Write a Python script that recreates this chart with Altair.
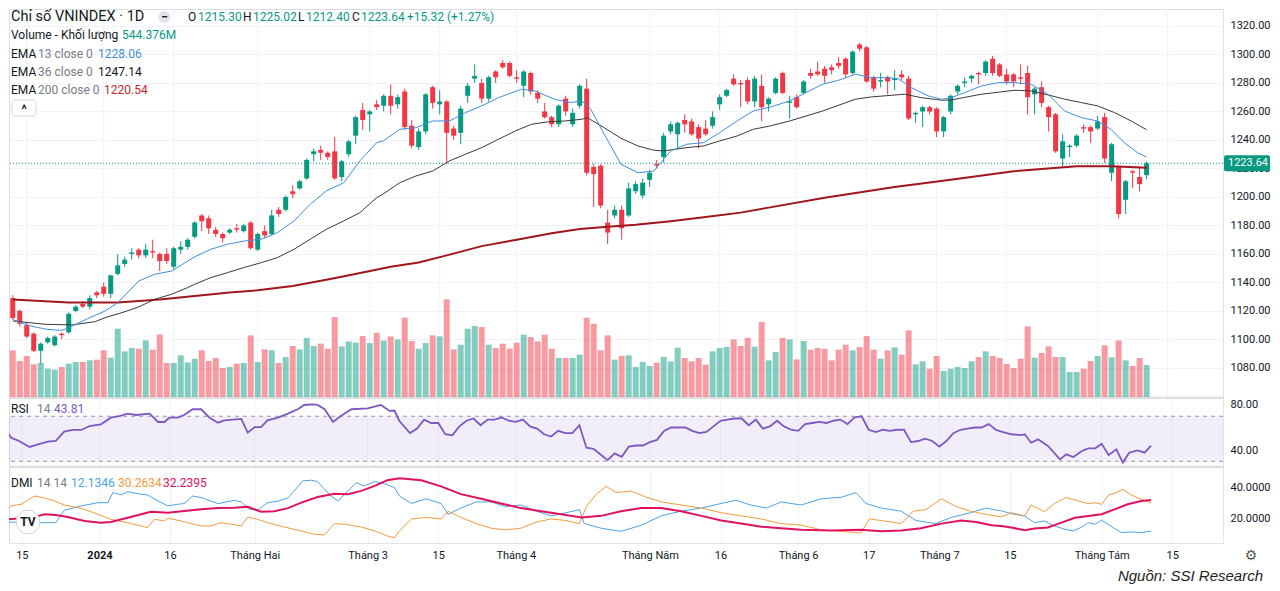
import altair as alt
import pandas as pd

# ---------------- data ----------------
opens = [1129,1120,1110,1104,1092,1098,1096,1104,1105,1120,
 1125,1123,1133,1137,1132,1146,1153,1160,1163,1159,
 1162,1160,1160,1151,1163,1165,1172,1187,1185,1177,
 1174,1175,1178,1176,1182,1163,1176,1174,1191,1191,
 1204,1206,1213,1230,1233,1231,1232,1214,1230,1243,
 1261,1258,1265,1264,1271,1265,1274,1250,1235,1246,
 1277,1265,1267,1248,1245,1271,1283,1280,1269,1288,
 1294,1294,1284,1278,1287,1273,1260,1256,1251,1269,
 1251,1264,1276,1221,1222,1182,1187,1191,1187,1204,
 1201,1212,1223,1228,1246,1244,1254,1253,1249,1248,
 1250,1265,1271,1283,1280,1282,1267,1278,1265,1273,
 1287,1266,1270,1273,1287,1288,1290,1291,1294,1297,
 1287,1307,1305,1284,1281,1284,1282,1286,1283,1258,
 1260,1263,1262,1246,1260,1274,1280,1283,1287,1287,
 1297,1293,1286,1286,1284,1287,1272,1277,1263,1258,
 1227,1235,1236,1249,1249,1248,1256,1217,1221,1198,
 1218,1214,1215.30]
highs = [1131,1121,1112,1105,1098,1102,1103,1105,1119,1124,
 1127,1131,1134,1140,1145,1160,1158,1164,1164,1167,
 1170,1161,1164,1165,1169,1171,1183,1188,1187,1179,
 1175,1178,1181,1181,1183,1175,1180,1191,1193,1201,
 1208,1212,1227,1234,1236,1232,1242,1226,1240,1257,
 1266,1261,1268,1272,1279,1272,1276,1254,1248,1273,
 1278,1275,1268,1250,1264,1280,1293,1283,1285,1289,
 1296,1295,1289,1289,1288,1275,1266,1257,1265,1271,
 1262,1279,1283,1223,1223,1191,1194,1194,1210,1211,
 1213,1219,1226,1245,1253,1253,1258,1255,1251,1254,
 1260,1272,1276,1286,1282,1284,1285,1286,1270,1284,
 1288,1271,1272,1282,1290,1295,1292,1293,1298,1298,
 1303,1308,1306,1285,1287,1285,1289,1289,1285,1260,
 1264,1264,1263,1257,1272,1279,1284,1286,1288,1296,
 1299,1294,1290,1287,1293,1292,1277,1281,1264,1259,
 1244,1237,1244,1251,1250,1257,1259,1238,1222,1212,
 1219,1221,1225.02]
lows = [1114,1109,1101,1091,1083,1097,1095,1100,1104,1119,
 1122,1121,1129,1130,1129,1145,1151,1156,1157,1157,
 1157,1148,1153,1149,1160,1163,1171,1176,1174,1172,
 1168,1174,1175,1175,1163,1162,1171,1173,1186,1190,
 1199,1205,1212,1225,1226,1226,1212,1211,1228,1237,
 1247,1246,1261,1260,1258,1262,1247,1234,1233,1244,
 1262,1258,1223,1240,1237,1266,1280,1266,1267,1280,
 1290,1284,1280,1270,1272,1266,1255,1249,1249,1257,
 1249,1262,1215,1193,1192,1167,1185,1170,1186,1202,
 1199,1207,1220,1224,1244,1234,1245,1243,1234,1243,
 1248,1261,1270,1278,1263,1265,1263,1253,1260,1272,
 1272,1255,1262,1272,1283,1285,1280,1286,1290,1284,
 1286,1302,1280,1274,1277,1272,1275,1282,1254,1252,
 1249,1258,1242,1242,1258,1272,1277,1280,1279,1285,
 1285,1284,1279,1277,1279,1258,1258,1263,1246,1231,
 1221,1228,1235,1245,1238,1247,1224,1211,1185,1188,
 1206,1204,1212.40]
closes = [1115,1111,1102,1092,1097,1101,1102,1103,1118,1123,
 1123,1129,1131,1132,1145,1152,1156,1161,1159,1163,
 1161,1155,1155,1164,1165,1170,1182,1183,1178,1174,
 1171,1177,1177,1180,1164,1174,1173,1187,1188,1200,
 1202,1211,1226,1232,1231,1228,1213,1225,1239,1256,
 1254,1260,1263,1271,1264,1270,1249,1236,1246,1272,
 1266,1267,1245,1243,1262,1278,1285,1269,1284,1284,
 1291,1285,1283,1288,1274,1269,1256,1251,1264,1260,
 1259,1278,1217,1216,1194,1175,1191,1178,1206,1209,
 1210,1217,1222,1243,1251,1252,1251,1244,1241,1244,
 1256,1270,1275,1279,1279,1267,1283,1263,1269,1283,
 1273,1267,1263,1281,1285,1286,1285,1289,1292,1286,
 1302,1304,1281,1276,1282,1281,1283,1284,1255,1259,
 1263,1260,1246,1256,1271,1278,1281,1285,1286,1295,
 1287,1285,1281,1281,1283,1270,1276,1266,1256,1232,
 1239,1236,1243,1248,1246,1253,1227,1237,1188,1211,
 1217,1209,1223.64]
volumes = [794,612,697,556,578,482,465,510,567,595,
 595,624,635,794,669,1162,776,833,822,963,
 805,1065,578,578,708,589,652,794,612,663,
 493,510,567,578,1048,595,810,794,578,680,
 867,810,1003,867,907,822,1360,861,946,924,
 1037,918,1094,960,1031,980,1349,952,822,918,
 1048,1031,1660,810,890,1162,1207,1190,890,833,
 907,822,924,1060,1020,946,1060,822,663,663,
 663,720,1349,1247,794,1048,635,697,708,510,
 595,527,584,680,607,839,663,607,663,550,
 776,833,850,980,867,1009,856,1275,623,765,
 1003,980,640,952,805,833,822,623,805,890,
 794,850,1037,805,652,794,844,720,1133,555,
 607,482,697,442,482,510,493,607,680,776,
 697,663,561,493,652,1201,669,748,861,680,
 680,425,425,482,612,697,878,674,963,623,
 527,663,544.376]

ema13_i = [0,2.5,5,7,8,11,13.2,15,18,20.3,22.7,25,26,28.3,30.7,33,35.5,37.8,40.2,42.5,44.8,47.3,49.6,52,53,55.3,57.6,60,62.4,64.7,67,69.4,72.7,74.6,77.4,79.7,81.3,82.6,84.5,86.9,89.3,91.6,94,96.3,98.7,101,103.5,105.8,108.4,111,113.3,115.7,118,120.4,122.7,125,126.5,128.4,130.8,132.7,134,136,138.4,140.8,143.2,145.5,147.9,150.3,152.7,155,156.9,158.8,160.7,162]
ema13_v = [1114,1109.5,1107,1106.4,1108.2,1115.3,1120,1125.8,1141,1145.8,1148,1155,1158,1163.3,1166.8,1169,1170.3,1174.9,1183.2,1194.9,1204.2,1210,1225.3,1238.1,1239.5,1247.5,1248.6,1253.3,1253.3,1259.2,1263.9,1269.7,1275.6,1274.4,1268.6,1266.2,1267.4,1261.5,1244,1223,1217,1218.2,1232.3,1237,1238.1,1245.1,1253.3,1260.3,1263.3,1267.4,1273.2,1279.1,1281.9,1286.1,1283.7,1283.7,1283,1276.7,1270.9,1268.6,1269.5,1273.2,1277.9,1280.2,1280.2,1279.1,1272.1,1260.3,1255.6,1253.3,1247.5,1238.1,1231.1,1228.06]

ema36_i = [0,4.7,8.5,11.8,13.2,15.6,18,20.3,22.7,25,26,28.3,30.7,33,35.5,37.8,40.2,42.5,44.8,47.3,49.6,52,52.9,55.3,57.6,60,62.4,64.7,67,69.4,71.8,74.1,76.6,78.9,81.3,82.1,84.5,86.9,89.3,91.6,93,96.3,98.7,101,103.5,105.8,108.2,111,115.7,120.4,122.7,127.4,129.8,132.7,134,138.4,143.2,145.5,147.9,150.3,152.7,155,157.4,159.8,162]
ema36_v = [1113,1110.6,1110.2,1112.5,1115.3,1118.8,1122.8,1128.2,1131.7,1136.4,1138.7,1143.4,1146.9,1150.4,1153.9,1157.4,1163.3,1170.3,1177.3,1183.2,1189,1199.5,1202,1210,1214.7,1218.2,1225.3,1230,1234.6,1240.5,1246.3,1251,1252.8,1253.3,1254.5,1255.6,1248.6,1241.2,1235.8,1232.8,1232.3,1234.6,1235.8,1239.3,1242.8,1247.5,1249.8,1253.3,1260.3,1268.6,1270.2,1272.1,1269.7,1267.9,1268,1272.1,1274.9,1274.4,1271.6,1268.6,1266.2,1263.9,1259.2,1253.3,1247.14]

ema200_i = [0,8,15,21,26,31,35,40,45,50,54,58,62,67,72,77,81,85,89,94,99,104,108,116,126,134,143,152,157,162]
ema200_v = [1128,1126,1126,1128,1130.5,1133,1134.5,1137.5,1142,1147,1151,1154,1159,1165.5,1170,1174.5,1177.5,1179,1180.5,1183,1186,1189,1192.5,1199.5,1207,1212,1218,1221.5,1221.5,1220.54]

rsi_i = [0,0.5,1.4,3.1,4.3,5.7,6.8,8,9.2,10.4,11.6,13.2,14.6,15.8,17,18.2,20.1,21.3,22.2,22.9,24.1,25,26.2,27.4,28.6,29.8,30.7,33.1,34,35,35.9,36.8,38.3,39.7,41.1,42,43.2,43.9,44.9,46.1,47.2,48.7,51,52.9,54.1,54.8,55.5,
 57,58,59,60,61,62,63,64,65,66,67,68,69,70,71,72,73,74,75,76,77,78,79,80,81,82,83,84,85,86,87,88,89,90,91,92,93,94,95,96,97,98,99,100,101,102,103,104,105,106,107,108,109,110,111,112,113,114,115,116,117,118,119,120,121,122,123,124,125,126,127,128,129,130,131,132,133,134,135,136,137,138,139,140,
 140.8,142.2,143.6,144.1,145,146,147.4,149.1,150,151,152.2,153.1,154.1,155,156,157.1,158,158.9,160.1,161.1,162]
rsi_v = [55.4,50.9,48.6,42.7,45,47.4,48,56.3,57.8,57.8,61.3,62.8,68.7,70.2,72.3,71.1,72.3,64.9,64.9,68.7,68.7,71.1,76.2,76.2,68.7,64.3,66.4,67.7,55.4,60.4,60.4,66.4,68.7,72.3,76.2,80,80.6,80,76.2,64.9,70.2,76.2,77,80,74.7,75.1,65.8,
 55,59,67,64,64,54,53,61,66,68,62,67,67,69,66,65,67,61,59,54,52,57,55,55,62,42,41,36,31,37,34,43,44,44,47,49,57,60,60,60,57,55,56,61,66,67,68,68,62,67,59,61,66,61,58,57,63,64,65,64,66,67,63,69,70,58,56,58,57,58,58,47,48,50,48,43,48,55,58,59,60,60,63,58,
 56.3,54,53.3,54,46.5,49.5,43.6,31.7,36.2,33.8,39.1,41.5,41.5,45.6,35.6,40.6,28.7,37.6,39.7,37.6,43.81]

pdi_i = [0,4.7,6.8,8,10.4,12.8,14.2,14.9,16.1,17,18.9,19.8,21.3,22.7,24.1,25,26.2,27.4,29.8,32.1,33.1,34.2,35.4,36.8,38.3,39.7,40.6,41.8,43,43.9,45.1,45.8,46.8,48.2,49.4,50.5,52,53.4,54.8,55.5,
 57.2,59.3,61.4,62.4,64.2,66.4,68.5,70.6,72.7,74.9,77,79.1,81,81.7,84.1,86.9,89.8,92.6,95.4,98.3,101.1,103.2,105.3,107.5,109.6,112.4,115.3,118.1,120.2,121.6,123.8,126.6,128.7,131.5,133.7,136.4,138.6,
 140.8,142.2,144.1,145.5,146.9,148.3,149.8,151,152.2,153.1,154.1,155,156.5,157.8,159.2,160.6,162]
pdi_v = [18,17.6,17.6,25.6,28.4,30.5,30.5,37,35.5,37.6,35.9,35.5,31.6,28.4,29.5,29.9,34.8,33.8,29.9,32,31,26.3,25.6,30.5,31.5,33.5,38.1,44.5,45,44.1,38.1,34.8,31.6,38.1,43.4,41.3,44.1,42.8,40.2,34.8,
 30,33,30,23,27,31,31,28,29,25,22,24,26,17,14,12,16,22,25,27,30,32,29,27,31,29,33,34,37,30,27,25,19,17,21,24,27,
 25.2,23.4,21.9,17.6,18.7,15.5,13.4,12.3,14.8,17.6,16.6,19.2,14.8,11.2,11.6,11.2,12.13]

mdi_i = [0,0.5,1.9,3.8,5.2,6.6,8,10.4,12.8,14.6,17,18.9,19.8,20.8,22.2,22.7,24.6,26,27.4,28.8,30.2,31.7,33.1,34,35.4,36.8,39.2,41.6,43.5,44.9,46.3,47.7,50.1,52,53.8,54.8,55.5,
 57.2,59.3,61.4,62.4,64.2,66.4,68.5,70.6,72.7,74.9,77,79.1,81,82,83.4,84.8,86.2,88.3,90.5,92.6,95.4,98.3,101.1,103.9,106.8,109.6,112.4,115.3,118.1,120.9,122.1,123.8,126.6,128.3,130.1,132.3,134.4,136.4,138.6,
 140.8,142.2,144.1,145,146.9,148.3,150,151.7,153.1,154.1,155,156,157.1,158,159.2,160.6,162]
mdi_v = [26.3,28.4,29.5,34.8,33.5,31.6,29,26.9,23,19.8,17.6,15.5,14.4,19.8,18.7,20.4,18.7,17,15.5,15.5,17.6,16.6,15.5,21.3,19.8,17.6,14.8,12.3,10.1,9.7,17,16.6,14.8,12.3,9,7.9,12.3,
 20,21,20,25,21,17,14,13,14,18,20,19,17,28,36,41,37,38,34,31,29,27,24,22,20,17,16,13,12,11,20,19,17,25,26,33,28,25,23,
 21.3,24.1,21.9,29,24.7,29.9,33.8,31.6,29.9,30.5,29.4,35.5,37,39.1,35.5,32.7,30.26]

adx_i = [0,3.8,5.2,6.8,8.5,10.9,13.2,14.6,17,18.9,20.3,22.7,25,27.4,29.8,32.1,34,35.9,37.8,39.7,41.6,43.9,46.3,48.2,50.1,52,53.8,55.5,
 58.6,61.4,64.2,67.1,69.9,72.7,75.6,78.4,81.3,84.1,86.9,89.8,92.6,95.4,98.3,101.1,103.9,106.8,109.6,112.4,116.7,120.9,123.8,126.6,129.4,132.3,135.1,137.2,139.4,
 140.8,142.2,144.1,145.5,147.4,149.3,151.2,153.1,155,156.9,158.7,160.6,162]
adx_v = [19.8,21.3,23,22.6,21.3,18.7,17.6,18,20.8,23,24.7,24,25.2,26.3,27,27.3,27.8,24.7,25,27,30.5,34.2,36.3,36,38.1,41.3,45,46.3,
 45,41,36,33,30,27,25,23,21,22,25,27,27,25,22,19,17,15,14,13,12.5,13,12,12.5,14,17,19,18,16,
 15.5,14.5,12.7,13.9,14.5,17.6,20.8,21.9,23,26.3,29.5,31.6,32.24]

tick_i = [2, 13, 23, 35, 51, 61, 72, 91, 101, 112, 122, 132, 142, 155, 165]
tick_lab = ["15", "2024", "16", "Tháng Hai", "Tháng 3", "15", "Tháng 4", "Tháng Năm",
            "16", "Tháng 6", "17", "Tháng 7", "15", "Tháng Tám", "15"]

# ---------------- styling ----------------
FONT = "Roboto"
DARK = "#131722"
GRAYT = "#787B86"
GREEN = "#089981"
RED = "#F23645"
GRID = "#F0F3FA"
SEP = "#E0E3EB"
C13 = "#3D8FE0"
C36 = "#3A3A3A"
C200 = "#A0161C"
RSIC = "#7E57C2"
PDIC = "#4DA3E8"
MDIC = "#F39A3C"
ADXC = "#E0115F"

W, H1, H2, H3 = 1214, 388, 68, 76
XS = alt.Scale(domain=[0.18, 172.2], nice=False, zero=False)
PS = alt.Scale(domain=[1059.6, 1331.9], nice=False, zero=False)
VS = alt.Scale(domain=[0, 6600], nice=False, zero=True)
RS = alt.Scale(domain=[25.8, 86.2], nice=False, zero=False)
DS = alt.Scale(domain=[4.5, 53.5], nice=False, zero=False)

N = len(closes)
df = pd.DataFrame({"i": list(range(N)), "o": opens, "h": highs, "l": lows,
                   "c": closes, "vol": volumes})
df["dir"] = ["up" if c >= o else "down" for o, c in zip(opens, closes)]
one = pd.DataFrame({"k": [0]})
tdf = pd.DataFrame({"i": tick_i})

col = alt.Color("dir:N", scale=alt.Scale(domain=["up", "down"], range=[GREEN, RED]), legend=None)


def X(axis=None):
    return alt.X("i:Q", scale=XS, axis=axis, title=None)


def T(x, y, s, color=DARK, size=12, weight="normal", align="left", style="normal", font=FONT):
    return alt.Chart(one).mark_text(text=s, x=x, y=y, color=color, fontSize=size,
                                    fontWeight=weight, align=align, baseline="middle",
                                    fontStyle=style, font=font)


def right_axis(values, fmt, grid):
    return alt.Axis(orient="right", values=values, format=fmt, grid=grid, gridColor=GRID,
                    ticks=False, domain=True, domainColor=SEP, labelPadding=7, title=None,
                    labelFontSize=11, labelColor=DARK, labelFont=FONT, minExtent=0)


def line(ii, vv, color, width, scale, yaxis=None, xaxis=None):
    d = pd.DataFrame({"i": ii, "v": vv})
    return alt.Chart(d).mark_line(color=color, strokeWidth=width, clip=True).encode(
        x=X(xaxis), y=alt.Y("v:Q", scale=scale, axis=yaxis, title=None))


# ---------------- price panel (independent y: price / volume) ----------------
vgrid = alt.Chart(tdf).mark_rule(color=GRID, strokeWidth=1).encode(x=X())
sep1 = alt.Chart(one).mark_rule(color=SEP, strokeWidth=1).encode(y=alt.value(H1))
vol = alt.Chart(df).mark_bar(size=6, opacity=0.5, clip=True).encode(
    x=X(), y=alt.Y("vol:Q", scale=VS, axis=None), color=col)
wick = alt.Chart(df).mark_rule(strokeWidth=1, clip=True).encode(
    x=X(), y=alt.Y("l:Q", scale=PS, axis=right_axis(list(range(1080, 1321, 20)), ".2f", True)),
    y2="h:Q", color=col)
body = alt.Chart(df).mark_bar(size=5, clip=True).encode(
    x=X(), y=alt.Y("o:Q", scale=PS, axis=None), y2="c:Q", color=col)
e200 = line(ema200_i, ema200_v, C200, 2, PS)
e36 = line(ema36_i, ema36_v, C36, 1, PS)
e13 = line(ema13_i, ema13_v, C13, 1, PS)
last = pd.DataFrame({"v": [closes[-1]]})
prule = alt.Chart(last).mark_rule(color=GREEN, strokeDash=[1, 2], strokeWidth=1).encode(
    y=alt.Y("v:Q", scale=PS, axis=None))
tag = alt.Chart(last).transform_calculate(top="datum.v + 5.6", bot="datum.v - 5.6").mark_rect(
    color=GREEN, cornerRadius=2).encode(
    x=alt.value(W + 1), x2=alt.value(W + 47),
    y=alt.Y("top:Q", scale=PS, axis=None), y2="bot:Q")
tagt = alt.Chart(last).mark_text(align="left", baseline="middle", color="white", fontSize=11,
                                 font=FONT).encode(
    x=alt.value(W + 5), y=alt.Y("v:Q", scale=PS, axis=None), text=alt.Text("v:Q", format=".2f"))

hdr = [
    T(2, 8, "Chỉ số VNINDEX · 1D", size=14.5),
    alt.Chart(one).mark_point(shape="circle", filled=True, size=150, x=155.5, y=8,
                              color="#E0E3EB", opacity=1),
    T(155.5, 8, "−", size=12, weight="bold", align="center"),
    T(179, 8, "O"), T(189, 8, "1215.30", GREEN),
    T(234, 8, "H"), T(244, 8, "1225.02", GREEN),
    T(289, 8, "L"), T(297, 8, "1212.40", GREEN),
    T(343, 8, "C"), T(352, 8, "1223.64", GREEN),
    T(398, 8, "+15.32 (+1.27%)", GREEN),
    T(2, 26, "Volume - Khối lượng"), T(113, 26, "544.376M", GREEN),
    T(2, 45, "EMA"), T(29, 45, "13 close 0", GRAYT), T(89, 45, "1228.06", C13),
    T(2, 63, "EMA"), T(29, 63, "36 close 0", GRAYT), T(89, 63, "1247.14", DARK),
    T(2, 81, "EMA"), T(29, 81, "200 close 0", GRAYT), T(95, 81, "1220.54", "#C62828"),
    alt.Chart(one).mark_rect(x=3, x2=27, y=91, y2=107, fill="white", stroke="#D1D4DC",
                             strokeWidth=1, cornerRadius=3),
    T(15, 101, "^", size=12, weight="bold", align="center"),
]

price = alt.layer(vgrid, sep1, vol, wick, body, e200, e36, e13, prule, tag, tagt, *hdr).resolve_scale(
    y="independent").properties(width=W, height=H1)

# ---------------- RSI panel ----------------
RAX = right_axis([40, 80], ".2f", False)
rgrid = alt.Chart(tdf).mark_rule(color=GRID, strokeWidth=1).encode(x=X())
sep2 = alt.Chart(one).mark_rule(color=SEP, strokeWidth=1).encode(y=alt.value(H2))
band = alt.Chart(pd.DataFrame({"a": [70], "b": [30]})).mark_rect(color=RSIC, opacity=0.1).encode(
    x=alt.value(0), x2=alt.value(W), y=alt.Y("a:Q", scale=RS, axis=RAX, title=None), y2="b:Q")
rrules = alt.Chart(pd.DataFrame({"v": [70, 30]})).mark_rule(
    color="#9598A1", strokeDash=[4, 4], strokeWidth=1).encode(
    y=alt.Y("v:Q", scale=RS, axis=RAX, title=None))
rsi_line = line(rsi_i, rsi_v, RSIC, 1.8, RS, yaxis=RAX)
rsi_txt = [T(2, 11, "RSI"), T(28, 11, "14", GRAYT), T(45, 11, "43.81", RSIC)]
rsi = alt.layer(rgrid, band, rrules, sep2, rsi_line, *rsi_txt).properties(width=W, height=H2)

# ---------------- DMI panel ----------------
lab_expr = "[" + ",".join("'%s'" % s for s in tick_lab) + "][indexof([" + ",".join(
    str(v) for v in tick_i) + "], datum.value)]"
XAX = alt.Axis(values=tick_i, labelExpr=lab_expr,
               labelFontWeight={"condition": {"test": "datum.value == 13", "value": "bold"},
                                "value": "normal"},
               ticks=False, domain=True, domainColor=SEP, grid=True, gridColor=GRID,
               labelPadding=6, title=None, labelOverlap=False, labelBound=False,
               labelFlush=False, labelColor=DARK, labelFontSize=11, labelFont=FONT)
DAX = right_axis([20, 40], ".4f", False)
pdi = line(pdi_i, pdi_v, PDIC, 1, DS, yaxis=DAX, xaxis=XAX)
mdi = line(mdi_i, mdi_v, MDIC, 1, DS, yaxis=DAX, xaxis=XAX)
adx = line(adx_i, adx_v, ADXC, 2, DS, yaxis=DAX, xaxis=XAX)
dmi_txt = [
    T(2, 16, "DMI"), T(28, 16, "14 14", GRAYT), T(62, 16, "12.1346", PDIC),
    T(109, 16, "30.2634", MDIC), T(154, 16, "32.2395", ADXC),
    alt.Chart(one).mark_point(shape="circle", filled=True, size=560, x=19, y=55,
                              color="white", stroke="#D1D4DC", strokeWidth=1, opacity=1),
    T(19, 55, "TV", size=12, weight="bold", align="center"),
    T(1242, 89, "⚙", color="#555555", size=14, align="center", font="DejaVu Sans"),
    T(1254, 109, "Nguồn: SSI Research", color="#222222", size=15, align="right", style="italic",
      font="Liberation Sans"),
]
dmi = alt.layer(pdi, mdi, adx, *dmi_txt).properties(width=W, height=H3)

chart = alt.vconcat(price, rsi, dmi, spacing=1, bounds="flush").properties(
    padding={"left": 0, "top": 0, "right": 0, "bottom": 0}).configure_view(
    stroke="transparent", strokeWidth=0).configure(font=FONT, background="white")

chart.save("out.html", embed_options={"renderer": "svg", "actions": False})
